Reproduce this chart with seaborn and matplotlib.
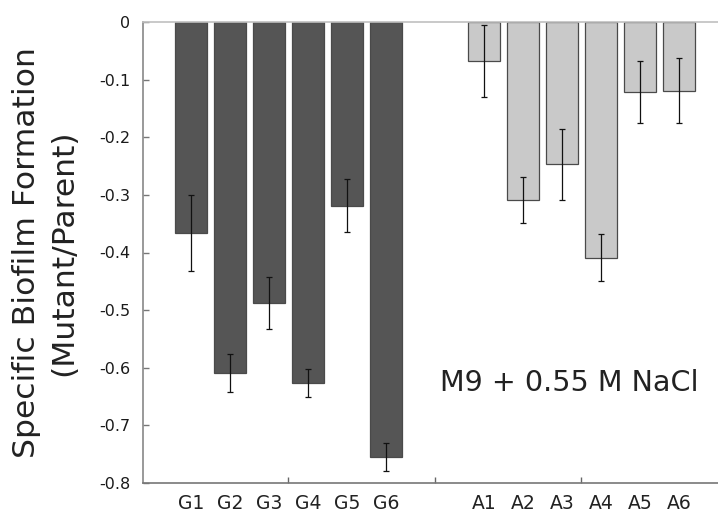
import numpy as np
import pandas as pd
import matplotlib
matplotlib.use("Agg")
import matplotlib.pyplot as plt
import seaborn as sns

# values
g_labels = ["G1", "G2", "G3", "G4", "G5", "G6"]
g_values = [-0.366, -0.609, -0.488, -0.627, -0.319, -0.755]
g_errors = [0.066, 0.033, 0.045, 0.024, 0.046, 0.025]

a_labels = ["A1", "A2", "A3", "A4", "A5", "A6"]
a_values = [-0.068, -0.309, -0.247, -0.409, -0.122, -0.119]
a_errors = [0.063, 0.040, 0.062, 0.041, 0.054, 0.056]

y_ticks = [0, -0.1, -0.2, -0.3, -0.4, -0.5, -0.6, -0.7, -0.8]

sns.set_theme(style="white")
plt.rcParams["font.family"] = ["DejaVu Sans"]

# two groups with a gap between them
g_pos = np.arange(len(g_labels), dtype=float)
a_pos = np.arange(len(a_labels), dtype=float) + len(g_labels) + 1.5

df = pd.DataFrame({
    "label": g_labels + a_labels,
    "value": g_values + a_values,
    "err": g_errors + a_errors,
    "pos": np.concatenate([g_pos, a_pos]),
    "group": ["G"] * len(g_labels) + ["A"] * len(a_labels),
})

fig = plt.figure(figsize=(7.18, 5.15), dpi=100)
ax = fig.add_axes([143 / 718, 32 / 515, 575 / 718, 461 / 515])

sns.barplot(data=df, x="pos", y="value", hue="group", native_scale=True,
            palette={"G": "#555555", "A": "#c9c9c9"}, dodge=False,
            width=0.82, edgecolor="#4a4a4a", linewidth=0.9, legend=False,
            errorbar=None, ax=ax)

ax.errorbar(df["pos"], df["value"], yerr=df["err"], fmt="none",
            ecolor="#111111", elinewidth=0.9, capsize=2.5, capthick=0.9)

ax.set_xlim(-1.24, 13.5)
ax.set_ylim(-0.8, 0)

ax.set_xticks(df["pos"])
ax.set_xticklabels(df["label"], fontsize=13.5, color="#222222")
ax.set_xticks([2.47, 6.24, 9.99], minor=True)
ax.tick_params(axis="x", which="major", length=0, pad=8)
ax.tick_params(axis="x", which="minor", direction="in", length=4,
               width=1, color="#666666", bottom=True)

ax.set_yticks(y_ticks)
ax.set_yticklabels([f"{v:g}" for v in y_ticks], fontsize=11.5, color="#1a1a1a")
ax.tick_params(axis="y", direction="in", length=4, width=1,
               color="#777777", left=True, pad=9)

ax.set_xlabel("")
ax.set_ylabel("Specific Biofilm Formation\n(Mutant/Parent)", fontsize=22.6,
              linespacing=1.37, va="center", color="#222222")
ax.yaxis.set_label_coords(-0.170, 0.5)

ax.text(0.741, 0.217, "M9 + 0.55 M NaCl", transform=ax.transAxes,
        fontsize=20.6, ha="center", va="center", color="#222222")

ax.spines["right"].set_visible(False)
ax.spines["top"].set_color("#c0c0c0")
ax.spines["left"].set_color("#888888")
ax.spines["bottom"].set_color("#777777")
for side in ["top", "left", "bottom"]:
    ax.spines[side].set_linewidth(1.2)

fig.savefig("out.png", dpi=100)
